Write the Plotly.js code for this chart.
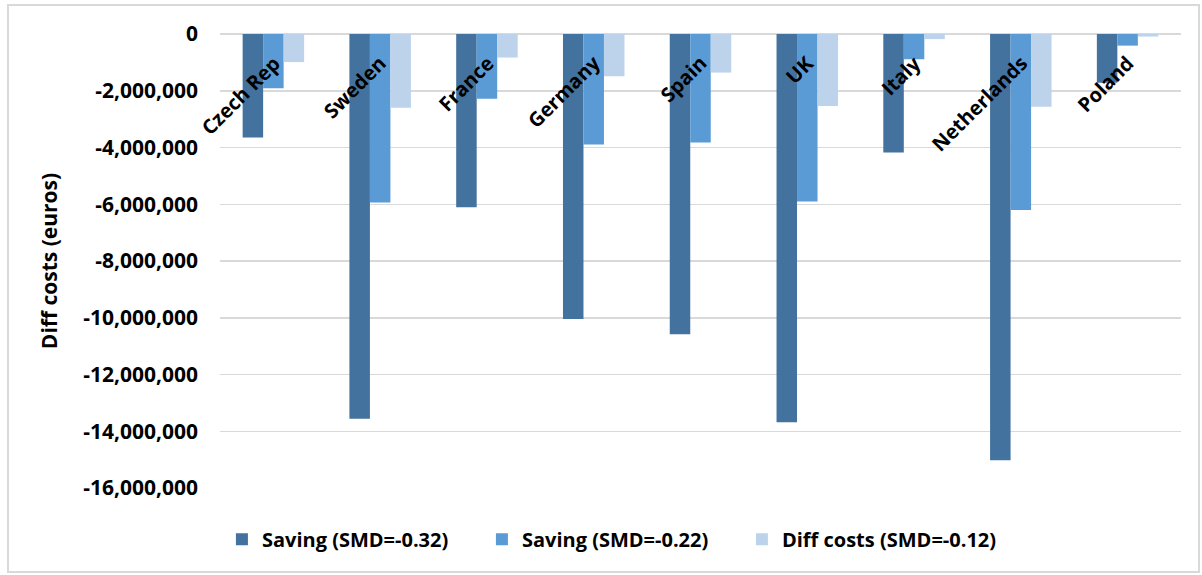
<!DOCTYPE html>
<html>
<head>
<meta charset="utf-8">
<script src="https://cdn.plot.ly/plotly-3.0.1.min.js"></script>
<style>
  html, body { margin: 0; padding: 0; background: #ffffff; }
  #wrap { position: relative; width: 1202px; height: 575px; }
  #chart { width: 1202px; height: 575px; }
  #frame { position: absolute; left: 7px; top: 4px; width: 1189px; height: 565px;
           border: 2px solid #d9d9d9; pointer-events: none; }
</style>
</head>
<body>
<div id="wrap">
  <div id="chart"></div>
  <div id="frame"></div>
</div>
<script>
// Countries along the category axis
const countries = ["Czech Rep", "Sweden", "France", "Germany", "Spain", "UK", "Italy", "Netherlands", "Poland"];

// Cost differences per country, in euros
const saving032 = [-3650000, -13560000, -6110000, -10040000, -10580000, -13680000, -4180000, -15020000, -1720000];
const saving022 = [-1910000, -5940000, -2280000, -3890000, -3820000, -5900000, -890000, -6200000, -410000];
const diffCosts012 = [-990000, -2600000, -830000, -1490000, -1360000, -2540000, -180000, -2560000, -90000];

const seriesNames = ["Saving (SMD=-0.32)", "Saving (SMD=-0.22)", "Diff costs (SMD=-0.12)"];
const seriesColors = ["#43729E", "#5B9BD5", "#BDD3EC"];

// Value axis ticks
const yTickVals = [0, -2000000, -4000000, -6000000, -8000000, -10000000, -12000000, -14000000, -16000000];
const yTickText = yTickVals.map(v => v.toLocaleString("en-US"));

const fontFamily = "'Open Sans', 'DejaVu Sans', sans-serif";

const seriesValues = [saving032, saving022, diffCosts012];
const traces = seriesValues.map((vals, i) => ({
  type: "bar",
  name: seriesNames[i],
  x: countries,
  y: vals,
  marker: { color: seriesColors[i], line: { width: 0 } },
  hoverinfo: "x+y+name"
}));

// Category names sit just under the zero line, slanted upward
const categoryLabels = countries.map(c => ({
  x: c,
  y: 0,
  xref: "x",
  yref: "y",
  text: "<b>" + c + "</b>",
  showarrow: false,
  textangle: -45,
  xanchor: "right",
  yanchor: "top",
  xshift: 15,
  yshift: -13,
  font: { family: fontFamily, size: 20, color: "#000000" }
}));

const layout = {
  width: 1202,
  height: 575,
  margin: { l: 220, r: 21, t: 34, b: 87, autoexpand: false },
  paper_bgcolor: "#ffffff",
  plot_bgcolor: "#ffffff",
  barmode: "group",
  bargap: 0.424,
  bargroupgap: 0,
  showlegend: true,
  legend: {
    orientation: "h",
    x: 0.002,
    xanchor: "left",
    y: -0.07,
    yanchor: "top",
    font: { family: fontFamily, size: 20, color: "#000000", weight: "bold" },
    itemwidth: 30,
    entrywidth: 215,
    entrywidthmode: "pixels",
    traceorder: "normal"
  },
  xaxis: {
    type: "category",
    range: [-0.5, 8.5],
    autorange: false,
    showticklabels: false,
    showgrid: false,
    zeroline: false,
    showline: false,
    ticks: ""
  },
  yaxis: {
    range: [-16000000, 0],
    autorange: false,
    tickvals: yTickVals,
    ticktext: yTickText,
    ticks: "",
    ticklabelstandoff: 21,
    showgrid: true,
    gridcolor: "#d9d9d9",
    gridwidth: 1.5,
    zeroline: true,
    zerolinecolor: "#d9d9d9",
    zerolinewidth: 1.5,
    showline: false,
    automargin: false,
    tickfont: { family: fontFamily, size: 21, color: "#000000", weight: "bold" },
    title: {
      text: "<b>Diff costs (euros)</b>",
      font: { family: fontFamily, size: 21, color: "#000000" },
      standoff: 19
    }
  },
  annotations: categoryLabels
};

Plotly.newPlot("chart", traces, layout, { displayModeBar: false, staticPlot: true });
</script>
</body>
</html>
